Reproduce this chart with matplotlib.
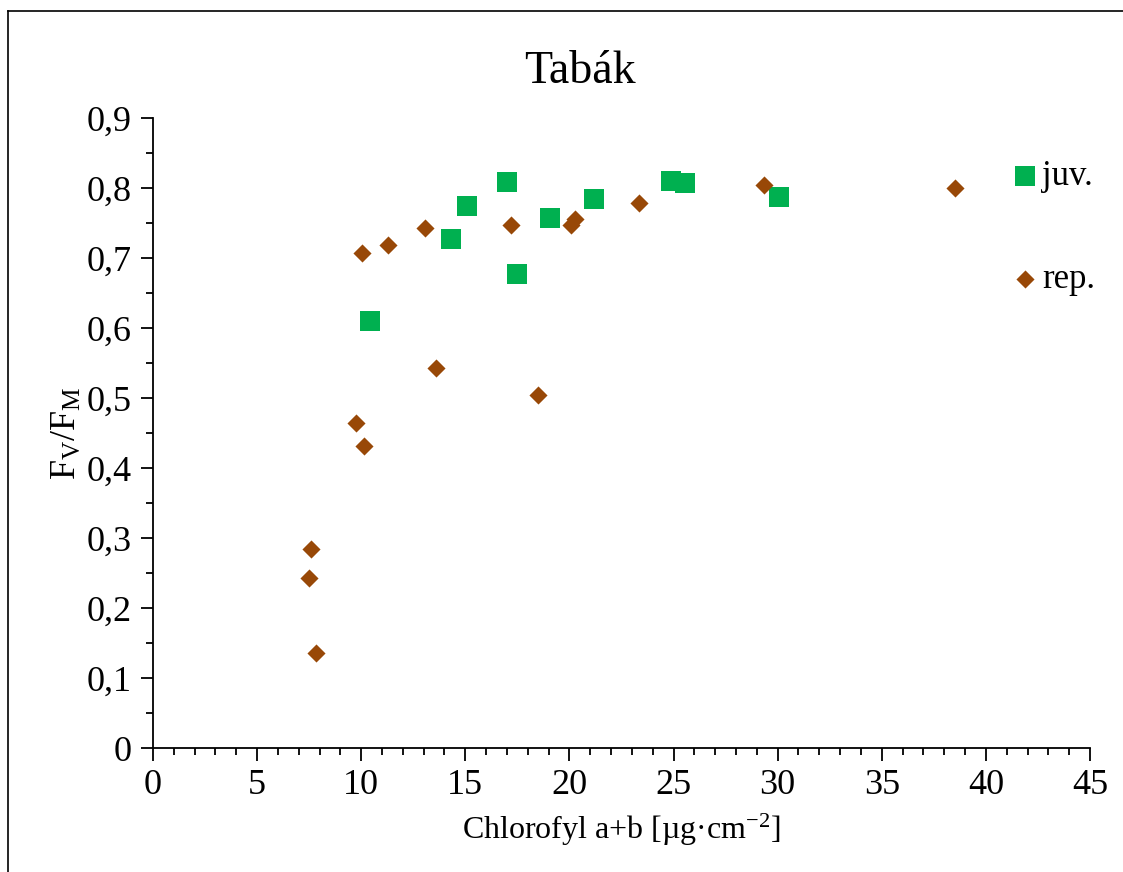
import numpy as np
import matplotlib
matplotlib.use('Agg')
import matplotlib.pyplot as plt
from matplotlib.ticker import MultipleLocator, FuncFormatter
from matplotlib.lines import Line2D

plt.rcParams['font.family'] = ['Liberation Serif', 'DejaVu Serif']
plt.rcParams['mathtext.fontset'] = 'custom'
plt.rcParams['mathtext.rm'] = 'Liberation Serif'
plt.rcParams['mathtext.it'] = 'Liberation Serif:italic'

# data
juv_x = [10.42, 14.31, 15.08, 17.0, 17.48, 19.07, 21.18, 24.88, 25.55, 30.07]
juv_y = [0.610, 0.727, 0.774, 0.809, 0.677, 0.757, 0.784, 0.810, 0.807, 0.787]

rep_x = [10.04, 11.29, 13.06, 13.59, 17.2, 18.49, 20.08, 20.27, 23.34, 29.35,
         38.52, 9.75, 10.13, 7.59, 7.49, 7.83]
rep_y = [0.707, 0.719, 0.743, 0.543, 0.747, 0.504, 0.747, 0.756, 0.779, 0.804,
         0.800, 0.464, 0.431, 0.284, 0.243, 0.136]

green = '#00B050'
brown = '#984807'

fig = plt.figure(figsize=(11.23, 8.72), dpi=100)
ax = fig.add_axes([0.1362, 0.1422, 0.8344, 0.7225])

ax.scatter(juv_x, juv_y, marker='s', s=200, color=green, linewidths=0, label='juv.', zorder=3)
ax.scatter(rep_x, rep_y, marker='D', s=85, color=brown, linewidths=0, label='rep.', zorder=3)

ax.set_xlim(0, 45)
ax.set_ylim(0, 0.9)
ax.xaxis.set_major_locator(MultipleLocator(5))
ax.xaxis.set_minor_locator(MultipleLocator(1))
ax.yaxis.set_major_locator(MultipleLocator(0.1))
ax.yaxis.set_minor_locator(MultipleLocator(0.05))

def carka(v, pos):
    s = ('%.1f' % v).rstrip('0').rstrip('.')
    return s.replace('.', ',')

ax.yaxis.set_major_formatter(FuncFormatter(carka))
ax.xaxis.set_major_formatter(FuncFormatter(lambda v, p: '%d' % v))

for s in ['top', 'right']:
    ax.spines[s].set_visible(False)
for s in ['left', 'bottom']:
    ax.spines[s].set_linewidth(1.3)
    ax.spines[s].set_color('black')

ax.tick_params(axis='both', which='major', labelsize=26, length=9, width=1.3,
               direction='out', pad=6)
ax.tick_params(axis='both', which='minor', length=5, width=1.3, direction='out')

ax.set_xlabel('Chlorofyl a+b [µg·cm$^{-2}$]', fontsize=23, labelpad=7)
ax.set_ylabel(r'F$_\mathrm{V}$/F$_\mathrm{M}$', fontsize=26, labelpad=2)
fig.text(0.516, 0.918, 'Tabák', fontsize=33, ha='center', va='center')

ax.legend(loc='upper left', bbox_to_anchor=(0.885, 0.832), bbox_transform=fig.transFigure,
          frameon=False, fontsize=25, labelspacing=2.0, handletextpad=0.0,
          handlelength=1.0, borderaxespad=0, scatterpoints=1)

# chart frame: only top and left edges are in view
fig.lines.append(Line2D([0.0075, 1.0], [0.9875, 0.9875], transform=fig.transFigure,
                        color='black', linewidth=1.2))
fig.lines.append(Line2D([0.0075, 0.0075], [0.0, 0.9875], transform=fig.transFigure,
                        color='black', linewidth=1.2))

fig.savefig('out.png', dpi=100)
